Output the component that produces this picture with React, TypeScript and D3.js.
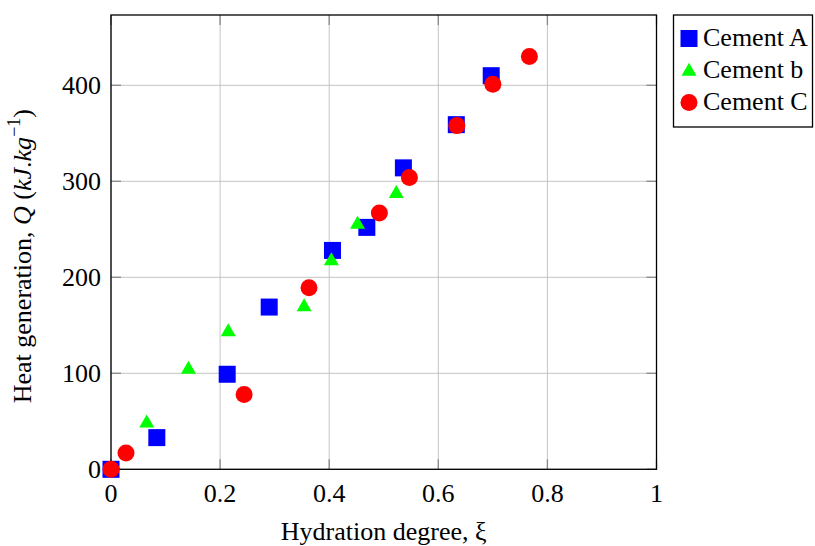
import React from "react";
import * as d3 from "d3";

const seriesNames = ["Cement A", "Cement b", "Cement C"];
const seriesColors = ["#0000ff", "#00ff00", "#ff0000"];
const seriesShapes = ["square", "triangle", "circle"];

const cementA_x = [0, 0.084, 0.213, 0.29, 0.406, 0.469, 0.536, 0.633, 0.697];
const cementA_y = [0, 33, 99, 169, 228, 252, 314, 359, 410];
const cementB_x = [0.0655, 0.142, 0.215, 0.354, 0.404, 0.452, 0.523];
const cementB_y = [49, 105, 144, 170, 218, 256, 288];
const cementC_x = [0, 0.0275, 0.244, 0.363, 0.492, 0.547, 0.634, 0.7, 0.767];
const cementC_y = [0, 17, 78, 189, 267, 304, 358, 401, 430];

const xTicks = [0, 0.2, 0.4, 0.6, 0.8, 1];
const yTicks = [0, 100, 200, 300, 400];

const W = 815, H = 546;
const L = 111, R = 656.5, T = 15, B = 469.3;
const FONT = "'Liberation Serif', 'Times New Roman', serif";

function Marker({ shape, cx, cy, color }: { shape: string; cx: number; cy: number; color: string }) {
  if (shape === "square") return <rect x={cx - 8.5} y={cy - 8.5} width={17} height={17} fill={color} />;
  if (shape === "circle") return <circle cx={cx} cy={cy} r={8.5} fill={color} />;
  const h = 13, w = 15;
  const pts = [[cx, cy - h * 0.6], [cx - w / 2, cy + h * 0.4], [cx + w / 2, cy + h * 0.4]];
  return <polygon points={pts.map((p) => p.join(",")).join(" ")} fill={color} />;
}

export default function App() {
  const x = d3.scaleLinear().domain([0, 1]).range([L, R]);
  const y = d3.scaleLinear().domain([0, (B - T) / 0.96]).range([B, T]);
  const series = [
    { xs: cementA_x, ys: cementA_y },
    { xs: cementB_x, ys: cementB_y },
    { xs: cementC_x, ys: cementC_y },
  ];
  return (
    <svg width={W} height={H} style={{ position: "absolute", left: 0, top: 0, background: "#fff" }} fontFamily={FONT}>
      {xTicks.map((t) => (
        <line key={"gx" + t} x1={x(t)} x2={x(t)} y1={T} y2={B} stroke="#c4c4c4" strokeWidth={1} />
      ))}
      {yTicks.map((t) => (
        <line key={"gy" + t} x1={L} x2={R} y1={y(t)} y2={y(t)} stroke="#c4c4c4" strokeWidth={1} />
      ))}
      {xTicks.map((t) => (
        <g key={"tx" + t}>
          <line x1={x(t)} x2={x(t)} y1={B} y2={B - 10} stroke="#888" strokeWidth={1.3} />
          <line x1={x(t)} x2={x(t)} y1={T} y2={T + 10} stroke="#888" strokeWidth={1.3} />
        </g>
      ))}
      {yTicks.map((t) => (
        <g key={"ty" + t}>
          <line x1={L} x2={L + 10} y1={y(t)} y2={y(t)} stroke="#888" strokeWidth={1.3} />
          <line x1={R} x2={R - 10} y1={y(t)} y2={y(t)} stroke="#888" strokeWidth={1.3} />
        </g>
      ))}
      <rect x={L} y={T} width={R - L} height={B - T} fill="none" stroke="#000" strokeWidth={1.3} />
      {xTicks.map((t) => (
        <text key={"lx" + t} x={x(t)} y={502} textAnchor="middle" fontSize={26} fill="#000">
          {String(t)}
        </text>
      ))}
      {yTicks.map((t) => (
        <text key={"ly" + t} x={101} y={y(t) + 9} textAnchor="end" fontSize={26} fill="#000">
          {t}
        </text>
      ))}
      {series.map((s, i) =>
        s.xs.map((xv, j) => (
          <Marker key={i + "-" + j} shape={seriesShapes[i]} cx={x(xv)} cy={y(s.ys[j])} color={seriesColors[i]} />
        ))
      )}
      <text x={(L + R) / 2} y={540} textAnchor="middle" fontSize={26} fill="#000">
        Hydration degree, ξ
      </text>
      <text transform={`translate(31,${(T + B) / 2 + 14}) rotate(-90)`} textAnchor="middle" fontSize={26} fill="#000">
        Heat generation, <tspan fontStyle="italic">Q</tspan> (<tspan fontStyle="italic">kJ</tspan>.<tspan fontStyle="italic">kg</tspan>
        <tspan fontSize={18} dy={-11}>−1</tspan>
        <tspan dy={11}>)</tspan>
      </text>
      <rect x={673.5} y={15} width={139} height={112} fill="#fff" stroke="#000" strokeWidth={1.3} />
      {seriesNames.map((n, i) => (
        <g key={n}>
          <Marker shape={seriesShapes[i]} cx={689} cy={38.5 + i * 32} color={seriesColors[i]} />
          <text x={703} y={46 + i * 32} fontSize={26} fill="#000">
            {n}
          </text>
        </g>
      ))}
    </svg>
  );
}
